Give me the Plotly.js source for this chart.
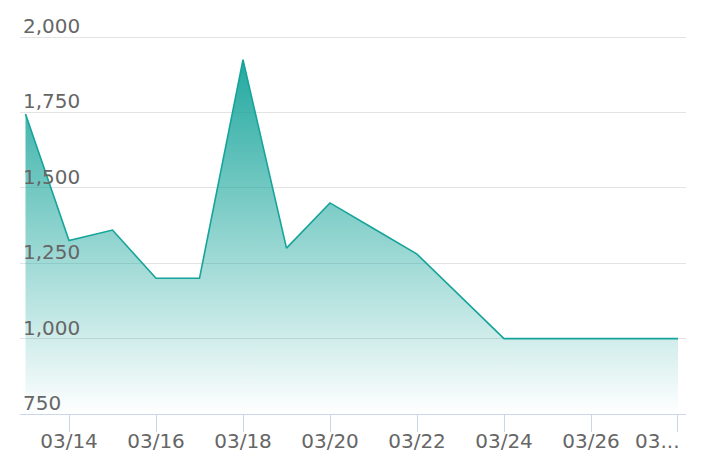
<!DOCTYPE html>
<html>
<head>
<meta charset="utf-8">
<script src="https://cdn.plot.ly/plotly-3.0.1.min.js"></script>
<style>
  html, body { margin: 0; padding: 0; background: #ffffff; }
  #chart { width: 712px; height: 474px; }
</style>
</head>
<body>
<div id="chart"></div>
<script>
// Data
const dates = [
  '2024-03-13', '2024-03-14', '2024-03-15', '2024-03-16', '2024-03-17',
  '2024-03-18', '2024-03-19', '2024-03-20', '2024-03-21', '2024-03-22',
  '2024-03-23', '2024-03-24', '2024-03-25', '2024-03-26', '2024-03-27',
  '2024-03-28'
];
const values = [
  1745, 1325, 1360, 1200, 1200,
  1925, 1300, 1450, 1365, 1280,
  1140, 1000, 1000, 1000, 1000,
  1000
];
const xTickVals = ['2024-03-14', '2024-03-16', '2024-03-18', '2024-03-20',
                   '2024-03-22', '2024-03-24', '2024-03-26', '2024-03-28'];
const xTickText = ['03/14', '03/16', '03/18', '03/20',
                   '03/22', '03/24', '03/26', ''];
const lastTickLabel = '03...';
const yTickVals = [750, 1000, 1250, 1500, 1750, 2000];

const teal = 'rgb(22,164,154)';

const trace = {
  type: 'scatter',
  mode: 'lines',
  x: dates,
  y: values,
  line: { color: teal, width: 1.6 },
  fill: 'tozeroy',
  fillgradient: {
    type: 'vertical',
    start: 750,
    stop: 1925,
    colorscale: [
      [0, 'rgba(22,164,154,0.0)'],
      [1, 'rgba(22,164,154,0.95)']
    ]
  },
  hoverinfo: 'x+y'
};

const layout = {
  width: 712,
  height: 474,
  margin: { l: 20, r: 26, t: 34, b: 60 },
  paper_bgcolor: '#ffffff',
  plot_bgcolor: '#ffffff',
  showlegend: false,
  font: { family: 'DejaVu Sans, sans-serif', size: 20, color: '#666666' },
  xaxis: {
    type: 'date',
    range: ['2024-03-12 20:58', '2024-03-28 04:25'],
    tickmode: 'array',
    tickvals: xTickVals,
    ticktext: xTickText,
    showgrid: false,
    zeroline: false,
    showline: true,
    linecolor: '#ccd6eb',
    linewidth: 1,
    ticks: 'outside',
    ticklen: 17,
    tickwidth: 1,
    tickcolor: '#ccd6eb',
    ticklabelstandoff: -8,
    tickfont: { family: 'DejaVu Sans, sans-serif', size: 20, color: '#666666' }
  },
  yaxis: {
    range: [750, 2010],
    tickmode: 'array',
    tickvals: yTickVals,
    tickformat: ',d',
    showgrid: true,
    gridcolor: '#e3e3e3',
    gridwidth: 1,
    zeroline: false,
    showline: false,
    ticks: '',
    ticklabelposition: 'inside top',
    ticklabeloverflow: 'allow',
    ticklabelshift: 3,
    tickfont: { family: 'DejaVu Sans, sans-serif', size: 20, color: '#666666' }
  },
  annotations: [{
    x: xTickVals[xTickVals.length - 1],
    xref: 'x',
    y: 0,
    yref: 'paper',
    xanchor: 'right',
    yanchor: 'top',
    xshift: 4,
    yshift: -13,
    text: lastTickLabel,
    showarrow: false,
    font: { family: 'DejaVu Sans, sans-serif', size: 20, color: '#666666' }
  }]
};

Plotly.newPlot('chart', [trace], layout, { displayModeBar: false, staticPlot: true });
</script>
</body>
</html>
